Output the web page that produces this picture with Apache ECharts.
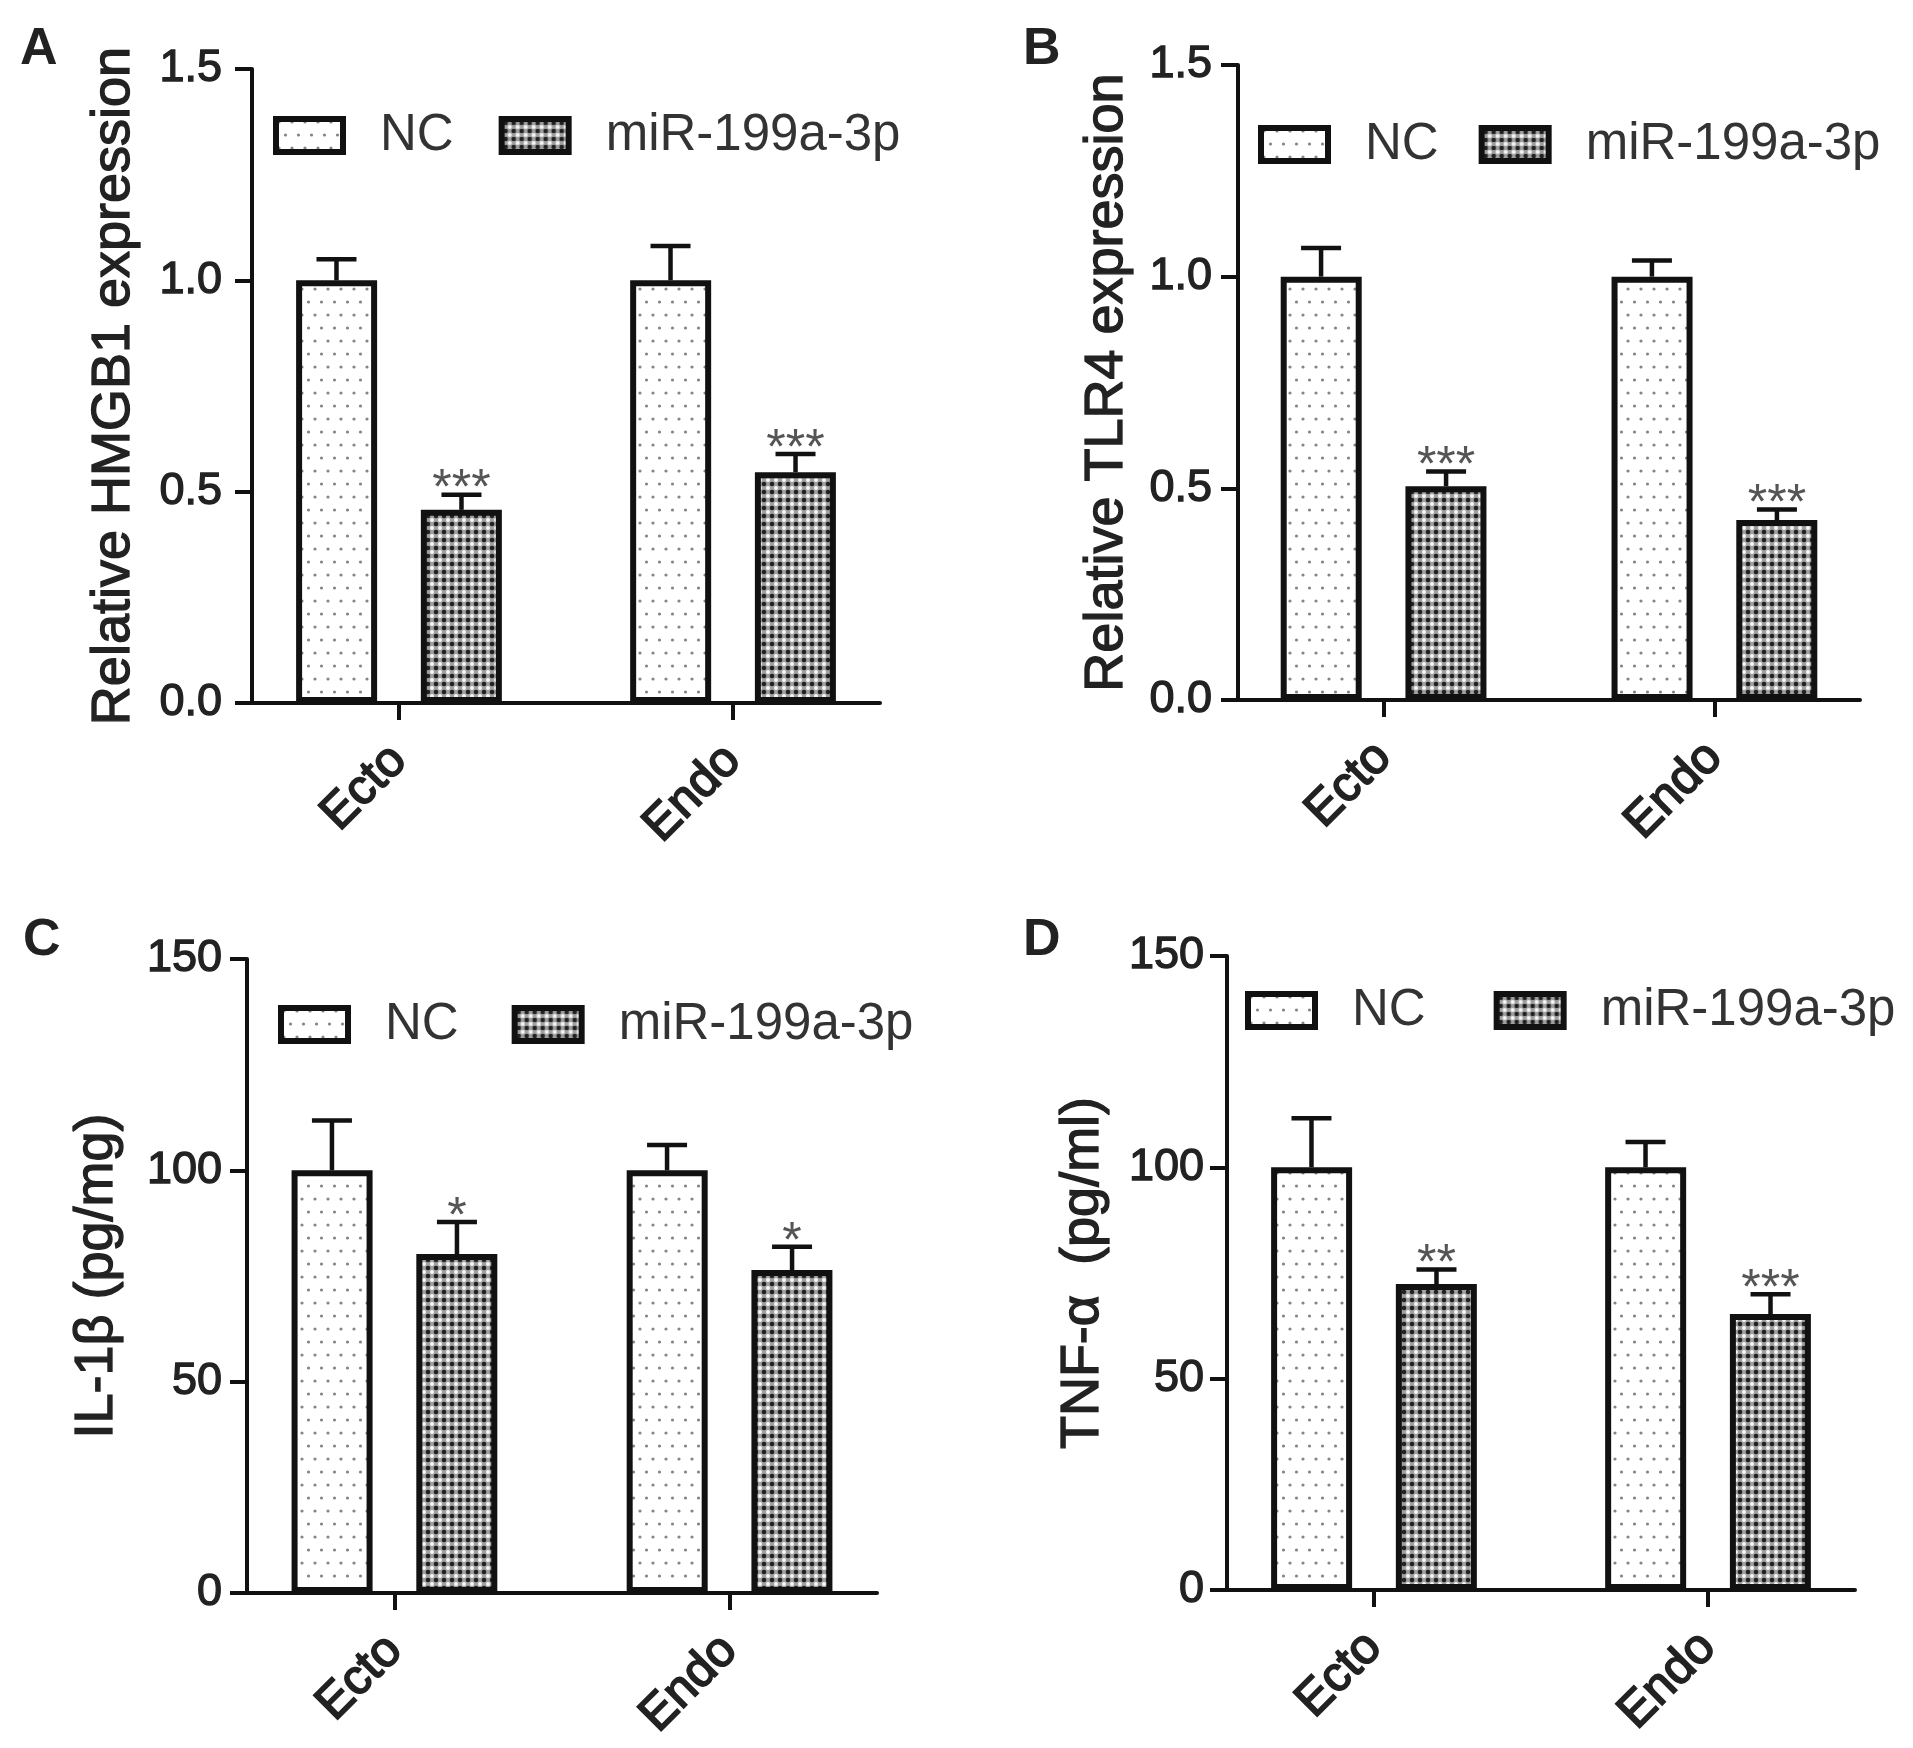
<!DOCTYPE html>
<html>
<head>
<meta charset="utf-8">
<script src="https://cdn.jsdelivr.net/npm/echarts@6/dist/echarts.min.js"></script>
<style>html,body{margin:0;padding:0;background:#fff;}#chart{width:1913px;height:1748px;}</style>
</head>
<body>
<div id="chart"></div>
<script>
// ---------- data ----------
const categories = ['Ecto', 'Endo'];
const seriesNames = ['NC', 'miR-199a-3p'];

const hmgb1NC = [1.0, 1.0];
const hmgb1NCsd = [0.05, 0.081];
const hmgb1Mir = [0.457, 0.546];
const hmgb1MirSd = [0.036, 0.043];
const hmgb1Stars = ['***', '***'];

const tlr4NC = [1.0, 1.0];
const tlr4NCsd = [0.068, 0.038];
const tlr4Mir = [0.505, 0.425];
const tlr4MirSd = [0.035, 0.025];
const tlr4Stars = ['***', '***'];

const il1bNC = [100, 100];
const il1bNCsd = [11.8, 6.0];
const il1bMir = [80.2, 76.4];
const il1bMirSd = [7.6, 5.5];
const il1bStars = ['*', '*'];

const tnfaNC = [100, 100];
const tnfaNCsd = [11.6, 6.0];
const tnfaMir = [72.4, 65.3];
const tnfaMirSd = [3.4, 4.7];
const tnfaStars = ['**', '***'];

// ---------- styles ----------
const FONT = "'Liberation Sans', Arial, Helvetica, sans-serif";
const INK = '#111';
const TXT = '#222';

function makeNCPattern() {
  const c = document.createElement('canvas');
  c.width = 13; c.height = 26;
  const g = c.getContext('2d');
  g.fillStyle = '#ffffff'; g.fillRect(0, 0, 13, 26);
  g.fillStyle = '#858585';
  g.beginPath(); g.arc(3, 3, 1.6, 0, Math.PI * 2); g.fill();
  g.beginPath(); g.arc(9.5, 16, 1.6, 0, Math.PI * 2); g.fill();
  return c;
}
function makeMirPattern() {
  const c = document.createElement('canvas');
  c.width = 8; c.height = 8;
  const g = c.getContext('2d');
  g.fillStyle = '#a0a0a0'; g.fillRect(0, 0, 8, 8);
  g.fillStyle = '#f6f6f6';
  [[0,0],[8,0],[0,8],[8,8]].forEach(p => { g.beginPath(); g.arc(p[0], p[1], 2.0, 0, Math.PI * 2); g.fill(); });
  g.fillStyle = '#222';
  g.beginPath(); g.arc(4, 4, 2.3, 0, Math.PI * 2); g.fill();
  return c;
}
const ncFill = { image: makeNCPattern(), repeat: 'repeat' };
const mirFill = { image: makeMirPattern(), repeat: 'repeat' };

const panels = [
  { letter: 'A', lpos: { left: 20, top: 24 }, grid: { left: 252, top: 69, width: 628, height: 634 },
    ymax: 1.5, yint: 0.5, dec: 1, yName: 'Relative HMGB1 expression', nameGap: 111, labelMargin: 30,
    legend: { left: 273, top: 110, itemGap: 45 },
    nc: hmgb1NC, ncSd: hmgb1NCsd, mir: hmgb1Mir, mirSd: hmgb1MirSd, stars: hmgb1Stars },
  { letter: 'B', lpos: { left: 1023, top: 24 }, grid: { left: 1238, top: 65, width: 622, height: 635 },
    ymax: 1.5, yint: 0.5, dec: 1, yName: 'Relative TLR4 expression', nameGap: 104, labelMargin: 26,
    legend: { left: 1258, top: 119, itemGap: 40 },
    nc: tlr4NC, ncSd: tlr4NCsd, mir: tlr4Mir, mirSd: tlr4MirSd, stars: tlr4Stars },
  { letter: 'C', lpos: { left: 23, top: 915 }, grid: { left: 247, top: 959, width: 630, height: 634 },
    ymax: 150, yint: 50, dec: 0, yName: 'IL-1β (pg/mg)', nameGap: 123, labelMargin: 25,
    legend: { left: 278, top: 999, itemGap: 53 },
    nc: il1bNC, ncSd: il1bNCsd, mir: il1bMir, mirSd: il1bMirSd, stars: il1bStars },
  { letter: 'D', lpos: { left: 1023, top: 915 }, grid: { left: 1227, top: 956, width: 628, height: 634 },
    ymax: 150, yint: 50, dec: 0, yName: 'TNF-α  (pg/ml)', nameGap: 117, labelMargin: 23,
    legend: { left: 1245, top: 985, itemGap: 68 },
    nc: tnfaNC, ncSd: tnfaNCsd, mir: tnfaMir, mirSd: tnfaMirSd, stars: tnfaStars }
];

const BAR_W = 81, HALF_OFF = 62.5, CAP_W = 40;
const HEAVY = { textBorderColor: TXT, textBorderWidth: 1.3 };

const option = {
  animation: false,
  backgroundColor: '#fff',
  title: panels.map(p => ({
    text: p.letter, left: p.lpos.left, top: p.lpos.top, padding: 0,
    textStyle: { fontFamily: FONT, fontSize: 52, fontWeight: 'bold', color: TXT }
  })),
  legend: panels.map(p => ({
    data: seriesNames, left: p.legend.left, top: p.legend.top, padding: 0,
    itemGap: p.legend.itemGap, itemWidth: 67, itemHeight: 33, icon: 'rect', selectedMode: false,
    itemStyle: { borderWidth: 6, borderColor: INK },
    textStyle: { fontFamily: FONT, fontSize: 51, color: '#333', padding: [0, 0, 0, 32] }
  })),
  grid: panels.map(p => Object.assign({ containLabel: false }, p.grid)),
  xAxis: panels.map((p, i) => ({
    type: 'value', gridIndex: i, min: 0.56, max: 2.44,
    splitLine: { show: false },
    axisLine: { show: true, lineStyle: { color: INK, width: 4 } },
    axisTick: { show: true, customValues: categories.map((c, j) => j + 1), length: 17, lineStyle: { color: INK, width: 4 } },
    axisLabel: Object.assign({
      show: true, customValues: categories.map((c, j) => j + 1),
      formatter: v => categories[Math.round(v) - 1] || '',
      rotate: 45, margin: 50, fontFamily: FONT, fontSize: 49, color: TXT
    }, { textBorderColor: TXT, textBorderWidth: 1.8 })
  })),
  yAxis: panels.map((p, i) => ({
    type: 'value', gridIndex: i, min: 0, max: p.ymax, interval: p.yint,
    name: p.yName, nameLocation: 'middle', nameGap: p.nameGap, nameRotate: 90,
    nameTextStyle: Object.assign({ fontFamily: FONT, fontSize: 54, color: TXT }, HEAVY),
    splitLine: { show: false },
    axisLine: { show: true, lineStyle: { color: INK, width: 4 } },
    axisTick: { show: true, length: 17, lineStyle: { color: INK, width: 4 } },
    axisLabel: Object.assign({
      margin: p.labelMargin, fontFamily: FONT, fontSize: 45, color: TXT,
      formatter: v => v.toFixed(p.dec)
    }, HEAVY)
  })),
  series: []
};

panels.forEach((p, i) => {
  option.series.push({
    type: 'bar', name: seriesNames[0], xAxisIndex: i, yAxisIndex: i,
    data: categories.map((c, j) => [j + 1, p.nc[j]]),
    barWidth: BAR_W, barGap: '54%',
    itemStyle: { color: ncFill, borderColor: INK, borderWidth: 6 },
    emphasis: { disabled: true }, silent: true, z: 2
  });
  option.series.push({
    type: 'bar', name: seriesNames[1], xAxisIndex: i, yAxisIndex: i,
    data: categories.map((c, j) => [j + 1, p.mir[j]]),
    barWidth: BAR_W, barGap: '54%',
    itemStyle: { color: mirFill, borderColor: INK, borderWidth: 6 },
    emphasis: { disabled: true }, silent: true, z: 2
  });
  const rows = [];
  categories.forEach((c, j) => {
    rows.push([j + 1, p.nc[j] + p.ncSd[j], p.nc[j], -1, j]);
    rows.push([j + 1, p.mir[j] + p.mirSd[j], p.mir[j], 1, j]);
  });
  option.series.push({
    type: 'custom', xAxisIndex: i, yAxisIndex: i, silent: true, z: 3,
    encode: { x: 0, y: [1, 2] },
    data: rows,
    renderItem: function (params, api) {
      const x = api.value(0), top = api.value(1), mean = api.value(2), side = api.value(3), j = api.value(4);
      const pm = api.coord([x, mean]);
      const pt = api.coord([x, top]);
      const cx = pm[0] + side * HALF_OFF;
      const children = [
        { type: 'line', shape: { x1: cx, y1: pm[1], x2: cx, y2: pt[1] }, style: { stroke: INK, lineWidth: 4.5 } },
        { type: 'line', shape: { x1: cx - CAP_W / 2, y1: pt[1], x2: cx + CAP_W / 2, y2: pt[1] }, style: { stroke: INK, lineWidth: 4.5 } }
      ];
      if (side > 0) {
        children.push({
          type: 'text',
          style: { text: p.stars[j], x: cx, y: pt[1] - 4, align: 'center', verticalAlign: 'middle',
                   fontFamily: FONT, fontSize: 50, fill: '#555' }
        });
      }
      return { type: 'group', children: children };
    }
  });
});

const chart = echarts.init(document.getElementById('chart'), null, { renderer: 'canvas' });
chart.setOption(option);
</script>
</body>
</html>
